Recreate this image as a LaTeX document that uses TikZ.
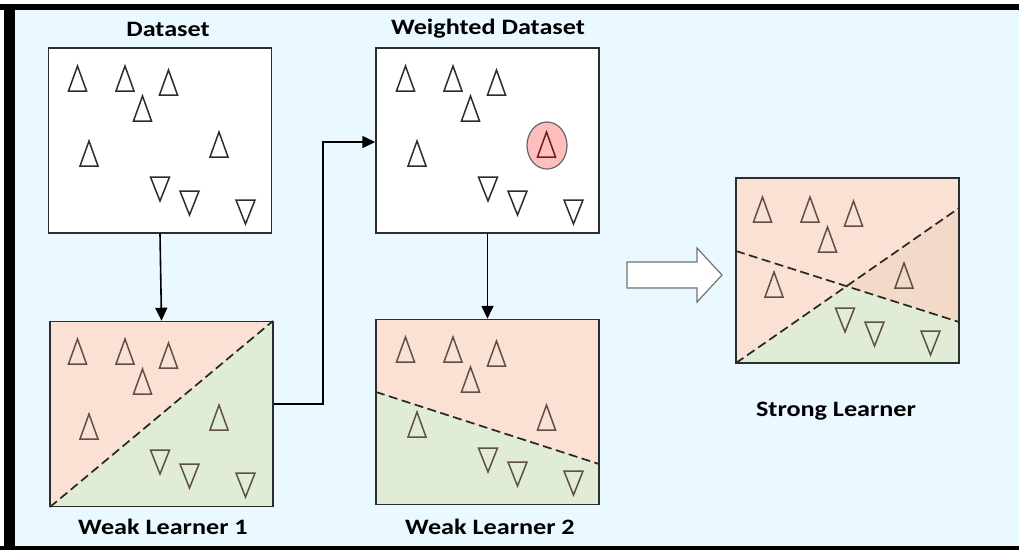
\documentclass[tikz,border=0pt]{standalone}
\usepackage{fontspec}
\setmainfont{Carlito}
\usetikzlibrary{arrows.meta,shapes.geometric}
\definecolor{bgblue}{RGB}{234,248,255}
\definecolor{peach}{RGB}{251,225,211}
\definecolor{mint}{RGB}{224,236,214}
\definecolor{tan}{RGB}{242,217,200}
\definecolor{pinkfill}{RGB}{255,190,190}
\definecolor{darkred}{RGB}{110,30,30}
\definecolor{brownline}{RGB}{95,80,70}
\definecolor{boxline}{RGB}{45,45,45}
\newcommand{\hstretch}[1]{\scalebox{1.19}[1]{#1}}
\newcommand{\tupx}[3]{\draw[tri=#3] (#1-9,#2+25) -- (#1,#2) -- (#1+9,#2+25) -- cycle;}
\newcommand{\tdnx}[3]{\draw[tri=#3] (#1-9.5,#2) -- (#1+9.5,#2) -- (#1,#2+24) -- cycle;}
\newcommand{\pointset}[3]{%
  \begin{scope}[shift={(#1,#2)}]
    \tupx{29.5}{18}{#3}\tupx{77}{18}{#3}\tupx{120.5}{22}{#3}
    \tupx{94.5}{48}{#3}\tupx{41}{93}{#3}
    \tdnx{112}{129}{#3}\tdnx{141.5}{143}{#3}\tdnx{197.5}{152}{#3}
  \end{scope}}
\tikzset{
  tri/.style={draw=#1, line width=1.5pt, line join=miter},
  boxnode/.style={draw=boxline, line width=1.5pt, minimum width=223pt, minimum height=185pt, inner sep=0pt},
  lbl/.style={font=\fontsize{22}{26}\selectfont\bfseries, inner sep=0pt},
  arr/.style={draw=black, line width=1.6pt, -{Triangle[length=13pt,width=12pt]}},
  split/.style={draw=black!85, line width=1.7pt, dash pattern=on 9pt off 4.5pt},
}
\begin{document}
\begin{tikzpicture}[x=1pt,y=-1pt]
\useasboundingbox (0,0) rectangle (1019,550);
\fill[white] (0,0) rectangle (1019,550);
\fill[bgblue] (9,7) rectangle (1019,548);
\fill[black] (0,4) rectangle (1019,10);
\fill[black] (4,4) rectangle (15,550);
\fill[black] (0,546) rectangle (1019,550);

% Dataset
\node[boxnode, fill=white] (ds) at (160,140.5) {};
\pointset{48}{48}{boxline}
\tupx{219}{132}{boxline}
\node[lbl] (tds) at (168,29) {\hstretch{Dataset}};

% Weighted dataset
\node[boxnode, fill=white] (wd) at (487.5,140.5) {};
\pointset{376}{48}{boxline}
\node[draw=black!60, fill=pinkfill, line width=1.2pt, ellipse, minimum width=40pt, minimum height=47pt, inner sep=0pt] (hl) at (547,145.5) {};
\tupx{546.5}{132}{darkred}
\node[lbl] (twd) at (488,29) {\hstretch{Weighted Dataset}};

% Weak learner 1
\fill[peach] (50,321) rectangle (273,507);
\fill[mint] (50,507) -- (273,321) -- (273,507) -- cycle;
\draw[split] (50,507) -- (273,321);
\pointset{48}{321}{brownline}
\tupx{219}{405}{brownline}
\node[boxnode] (wl1) at (161.5,414) {};
\node[lbl] (twl1) at (163,527) {\hstretch{Weak Learner 1}};

% Weak learner 2
\fill[peach] (376,319) rectangle (599,505);
\fill[mint] (376,392) -- (599,464) -- (599,505) -- (376,505) -- cycle;
\draw[split] (376,392) -- (599,464);
\pointset{376}{319}{brownline}
\tupx{546.5}{405}{brownline}
\node[boxnode] (wl2) at (487.5,412) {};
\node[lbl] (twl2) at (490,527) {\hstretch{Weak Learner 2}};

% Strong learner
\coordinate (A1) at (736,251);
\coordinate (A2) at (959,322);
\coordinate (B1) at (736,363);
\coordinate (B2) at (959,208);
\coordinate (X) at (intersection of A1--A2 and B1--B2);
\fill[peach] (736,178) rectangle (959,363);
\fill[tan] (X) -- (B2) -- (A2) -- cycle;
\fill[mint] (B1) -- (X) -- (A2) -- (959,363) -- cycle;
\draw[split] (A1) -- (A2);
\draw[split] (B1) -- (B2);
\pointset{733}{179}{brownline}
\tupx{904}{263}{brownline}
\node[boxnode] (sl) at (847.5,270.5) {};
\node[lbl] (tsl) at (836,411) {\hstretch{Strong Learner}};

% block arrow
\draw[draw=black!55, fill=white, line width=1.2pt, line join=miter]
  (627,262) -- (697,262) -- (697,248) -- (722,275) -- (697,302) -- (697,288) -- (627,288) -- cycle;

% connectors
\draw[arr] (ds.south) -- (wl1.north);
\draw[arr] ([yshift=10pt]wl1.east) -- ++(49,0) |- ([yshift=-1.5pt]wd.west);
\draw[arr] (wd.south) -- (wl2.north);
\end{tikzpicture}
\end{document}
